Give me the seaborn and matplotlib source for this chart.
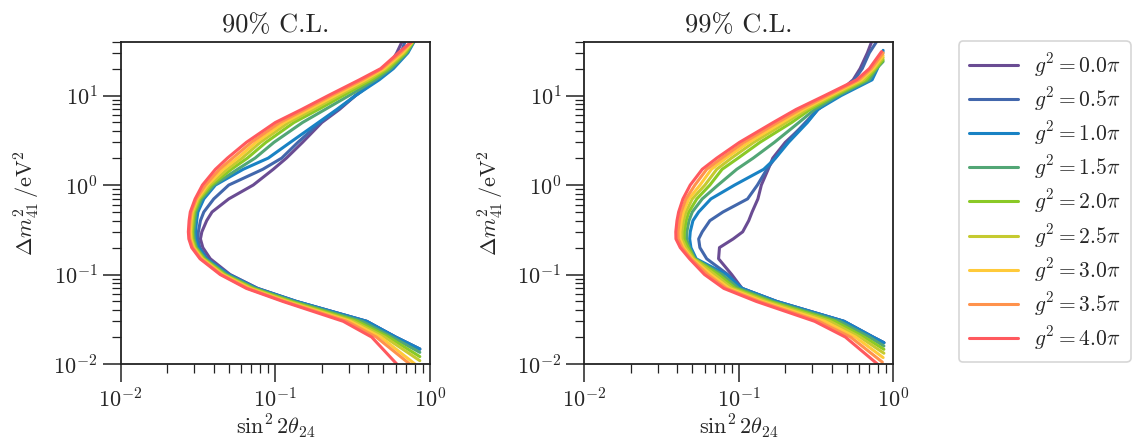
import numpy as np
import pandas as pd
import matplotlib
matplotlib.use("Agg")
import matplotlib.pyplot as plt
import seaborn as sns

# legend entries and colours (one per coupling value)
g2_labels = [r"$g^2 = 0.0\pi$", r"$g^2 = 0.5\pi$", r"$g^2 = 1.0\pi$",
             r"$g^2 = 1.5\pi$", r"$g^2 = 2.0\pi$", r"$g^2 = 2.5\pi$",
             r"$g^2 = 3.0\pi$", r"$g^2 = 3.5\pi$", r"$g^2 = 4.0\pi$"]
line_colors = ["#6a4c93", "#4267ac", "#1982c4", "#52a675", "#8ac926",
               "#c5ca30", "#ffca3a", "#ff924c", "#ff595e"]

dm2_grid = [0.02, 0.03, 0.05, 0.07, 0.1, 0.15, 0.2, 0.25, 0.3, 0.4, 0.5,
            0.7, 1, 1.5, 2, 3, 5, 7, 10, 15, 20]

# ---- 90% C.L. : sin^2 2theta_24 on the grid ----
cl90_g00 = [0.60, 0.39, 0.137, 0.077, 0.051, 0.038, 0.034, 0.0328, 0.0335, 0.036, 0.039,
            0.050, 0.072, 0.097, 0.118, 0.15, 0.20, 0.26, 0.33, 0.45, 0.53]
cl90_g05 = [0.60, 0.39, 0.137, 0.0765, 0.0505, 0.0362, 0.0325, 0.0316, 0.0318, 0.0328, 0.0345,
            0.040, 0.050, 0.083, 0.110, 0.14, 0.195, 0.255, 0.33, 0.455, 0.55]
cl90_g10 = [0.60, 0.39, 0.137, 0.0757, 0.0497, 0.036, 0.0318, 0.0306, 0.0305, 0.031, 0.0316,
            0.0345, 0.041, 0.062, 0.090, 0.125, 0.19, 0.25, 0.33, 0.47, 0.58]
cl90_g15 = [0.57, 0.365, 0.132, 0.074, 0.0485, 0.0353, 0.031, 0.0299, 0.0297, 0.0302, 0.0307,
            0.0334, 0.040, 0.057, 0.074, 0.098, 0.15, 0.21, 0.30, 0.445, 0.56]
cl90_g20 = [0.54, 0.34, 0.127, 0.072, 0.0472, 0.0346, 0.0305, 0.0293, 0.0291, 0.0295, 0.030,
            0.0325, 0.0387, 0.052, 0.066, 0.087, 0.132, 0.19, 0.275, 0.42, 0.54]
cl90_g25 = [0.51, 0.32, 0.122, 0.070, 0.0463, 0.034, 0.030, 0.0288, 0.0286, 0.029, 0.0295,
            0.0319, 0.0375, 0.049, 0.061, 0.080, 0.122, 0.176, 0.257, 0.40, 0.52]
cl90_g30 = [0.48, 0.305, 0.118, 0.068, 0.0455, 0.0335, 0.0296, 0.0284, 0.0282, 0.0285, 0.029,
            0.0313, 0.0364, 0.046, 0.057, 0.075, 0.114, 0.165, 0.243, 0.38, 0.505]
cl90_g35 = [0.45, 0.29, 0.115, 0.0665, 0.0447, 0.033, 0.0292, 0.028, 0.0278, 0.0281, 0.0286,
            0.0308, 0.0353, 0.0435, 0.053, 0.070, 0.107, 0.156, 0.23, 0.365, 0.49]
cl90_g40 = [0.42, 0.275, 0.112, 0.065, 0.044, 0.0326, 0.0288, 0.0276, 0.0274, 0.0277, 0.0282,
            0.0303, 0.0338, 0.041, 0.049, 0.065, 0.10, 0.148, 0.22, 0.35, 0.48]
# where each contour leaves the plot at the bottom / top
cl90_lo_x = [0.86, 0.86, 0.86, 0.86, 0.86, 0.86, 0.80, 0.74, 0.61]
cl90_lo_y = [0.0147, 0.0147, 0.0147, 0.0135, 0.0121, 0.0109, 0.01, 0.01, 0.01]
cl90_hi_x = [[0.61, 0.66], [0.65, 0.69], [0.72, 0.79], [0.71, 0.785], [0.695, 0.78],
             [0.68, 0.775], [0.665, 0.77], [0.645, 0.765], [0.625, 0.76]]
cl90_hi_y = [[30, 40]] * 9

# ---- 99% C.L. ----
cl99_g00 = [0.74, 0.48, 0.176, 0.105, 0.090, 0.074, 0.075, 0.092, 0.106, 0.116, 0.122,
            0.133, 0.14, 0.155, 0.166, 0.20, 0.275, 0.325, 0.42, 0.55, 0.61]
cl99_g05 = [0.74, 0.48, 0.176, 0.105, 0.085, 0.062, 0.056, 0.055, 0.058, 0.065, 0.079,
            0.114, 0.132, 0.152, 0.172, 0.205, 0.27, 0.325, 0.43, 0.56, 0.63]
cl99_g10 = [0.74, 0.48, 0.176, 0.105, 0.083, 0.053, 0.049, 0.0481, 0.0485, 0.0505, 0.055,
            0.066, 0.094, 0.145, 0.173, 0.21, 0.278, 0.325, 0.46, 0.73, 0.79]
cl99_g15 = [0.70, 0.45, 0.167, 0.10, 0.078, 0.052, 0.048, 0.0459, 0.0461, 0.0476, 0.050,
            0.058, 0.0734, 0.097, 0.124, 0.17, 0.245, 0.31, 0.44, 0.70, 0.78]
cl99_g20 = [0.65, 0.42, 0.159, 0.095, 0.074, 0.0515, 0.047, 0.0443, 0.0444, 0.0456, 0.0475,
            0.0535, 0.065, 0.078, 0.099, 0.137, 0.22, 0.29, 0.42, 0.67, 0.77]
cl99_g25 = [0.61, 0.39, 0.151, 0.091, 0.070, 0.051, 0.0455, 0.0429, 0.0429, 0.0439, 0.0455,
            0.050, 0.0604, 0.072, 0.0896, 0.125, 0.203, 0.275, 0.405, 0.645, 0.755]
cl99_g30 = [0.57, 0.36, 0.143, 0.087, 0.066, 0.050, 0.044, 0.0417, 0.0416, 0.0425, 0.0438,
            0.0475, 0.0561, 0.0665, 0.0826, 0.116, 0.19, 0.262, 0.39, 0.62, 0.74]
cl99_g35 = [0.53, 0.33, 0.136, 0.083, 0.063, 0.049, 0.043, 0.0405, 0.0404, 0.0412, 0.0423,
            0.0455, 0.052, 0.062, 0.0775, 0.108, 0.178, 0.25, 0.375, 0.60, 0.72]
cl99_g40 = [0.49, 0.31, 0.13, 0.080, 0.060, 0.048, 0.0418, 0.0392, 0.0391, 0.0398, 0.0408,
            0.0435, 0.0485, 0.058, 0.072, 0.101, 0.167, 0.235, 0.36, 0.58, 0.70]
cl99_lo_x = [0.87, 0.87, 0.87, 0.87, 0.87, 0.87, 0.86, 0.85, 0.79]
cl99_lo_y = [0.0173, 0.0173, 0.0173, 0.0159, 0.0146, 0.0132, 0.0118, 0.0105, 0.01]
cl99_hi_x = [[0.68, 0.725], [0.70, 0.78], [0.85, 0.86], [0.86], [0.86],
             [0.86], [0.86], [0.86], [0.84]]
cl99_hi_y = [[30, 40], [30, 40], [28, 32], [24], [25], [26.5], [28], [30], [31]]


def contour_frame(rows, lo_x, lo_y, hi_x, hi_y):
    parts = []
    for i, lab in enumerate(g2_labels):
        xs = [lo_x[i]] + rows[i] + hi_x[i]
        ys = [lo_y[i]] + dm2_grid + hi_y[i]
        parts.append(pd.DataFrame({"sin2": xs, "dm2": ys, "g2": lab}))
    return pd.concat(parts, ignore_index=True)


df90 = contour_frame([cl90_g00, cl90_g05, cl90_g10, cl90_g15, cl90_g20,
                      cl90_g25, cl90_g30, cl90_g35, cl90_g40],
                     cl90_lo_x, cl90_lo_y, cl90_hi_x, cl90_hi_y)
df99 = contour_frame([cl99_g00, cl99_g05, cl99_g10, cl99_g15, cl99_g20,
                      cl99_g25, cl99_g30, cl99_g35, cl99_g40],
                     cl99_lo_x, cl99_lo_y, cl99_hi_x, cl99_hi_y)

sns.set_theme(style="ticks")
plt.rcParams["font.family"] = ["cmr10", "DejaVu Serif"]
plt.rcParams["mathtext.fontset"] = "cm"
plt.rcParams["axes.formatter.use_mathtext"] = True
plt.rcParams["axes.unicode_minus"] = False

fig = plt.figure(figsize=(11.35, 4.43), dpi=100)
ax1 = fig.add_axes([0.1063, 0.1783, 0.2725, 0.7276])
ax2 = fig.add_axes([0.5148, 0.1783, 0.2722, 0.7276])

for ax, df, title in [(ax1, df90, "90% C.L."), (ax2, df99, "99% C.L.")]:
    ax.set_xscale("log")
    ax.set_yscale("log")
    sns.lineplot(data=df, x="sin2", y="dm2", hue="g2", hue_order=g2_labels,
                 palette=line_colors, sort=False, estimator=None,
                 linewidth=2.2, ax=ax)
    ax.set_xlim(0.01, 1)
    ax.set_ylim(0.01, 40)
    ax.set_title(title, fontsize=19, pad=7)
    ax.set_xlabel(r"$\sin^2 2\theta_{24}$", fontsize=16, labelpad=1)
    ax.set_ylabel(r"$\Delta m_{41}^2\,/\mathrm{eV}^2$", fontsize=16, labelpad=8)
    ax.tick_params(which="major", length=13, width=1.1, labelsize=16, color="#222222")
    ax.tick_params(which="minor", length=6.5, width=0.9, color="#222222")
    for sp in ax.spines.values():
        sp.set_linewidth(1.3)
        sp.set_color("#222222")

handles, labels = ax1.get_legend_handles_labels()
ax1.get_legend().remove()
ax2.get_legend().remove()
leg = fig.legend(handles, labels, loc="upper left", bbox_to_anchor=(0.845, 0.907),
                 fontsize=15.5, frameon=True, fancybox=True, handlelength=2.3,
                 labelspacing=0.30, borderpad=0.45, handletextpad=0.75,
                 borderaxespad=0.0)
leg.get_frame().set_edgecolor("#cccccc")
leg.get_frame().set_linewidth(1.2)

fig.savefig("out.png", dpi=100)
